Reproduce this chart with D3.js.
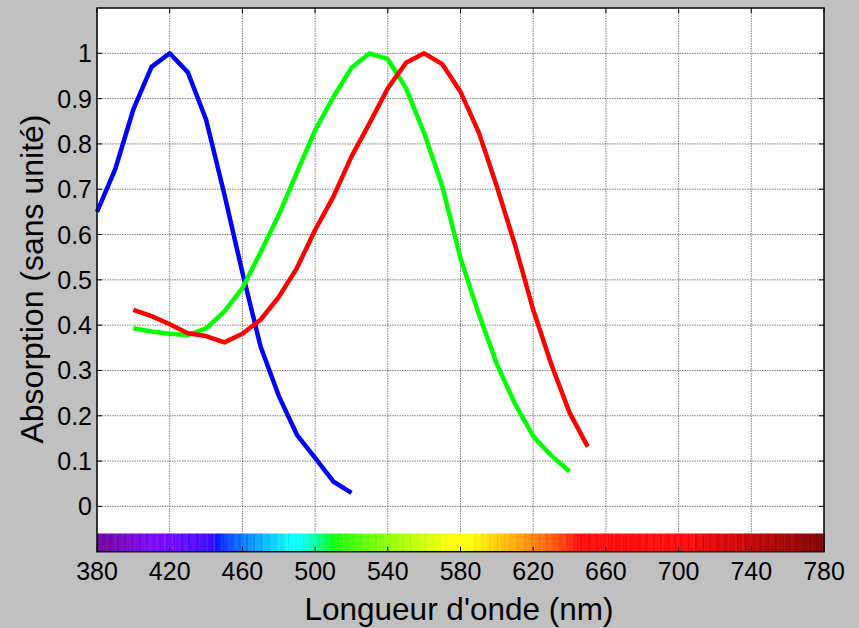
<!DOCTYPE html>
<html>
<head>
<meta charset="utf-8">
<title>Absorption des cônes</title>
<script src="https://d3js.org/d3.v7.min.js"></script>
<style>
  body { margin: 0; background: #c0c0c0; }
  svg { display: block; font-family: "Liberation Sans", Arial, sans-serif; }
  .grid line { stroke: #000; stroke-opacity: 0.5; stroke-dasharray: 1.5,1; }
</style>
</head>
<body>
<svg width="859" height="628"></svg>
<script>
// --- data ---
const blueNm  = [380, 390, 400, 410, 420, 430, 440, 450, 460, 470, 480, 490, 500, 510, 520];
const blueAbs = [0.65, 0.744, 0.876, 0.970, 1.0, 0.958, 0.854, 0.690, 0.516, 0.353, 0.244, 0.158, 0.107, 0.055, 0.030];

const greenNm  = [400, 410, 420, 430, 440, 450, 460, 470, 480, 490, 500, 510, 520, 530, 540, 550, 560, 570, 580, 590, 600, 610, 620, 630, 640];
const greenAbs = [0.393, 0.386, 0.381, 0.378, 0.393, 0.430, 0.482, 0.561, 0.643, 0.737, 0.830, 0.903, 0.968, 1.0, 0.987, 0.923, 0.824, 0.706, 0.548, 0.425, 0.314, 0.226, 0.155, 0.112, 0.077];

const redNm  = [400, 410, 420, 430, 440, 450, 460, 470, 480, 490, 500, 510, 520, 530, 540, 550, 560, 570, 580, 590, 600, 610, 620, 630, 640, 650];
const redAbs = [0.434, 0.420, 0.402, 0.382, 0.376, 0.362, 0.381, 0.412, 0.462, 0.526, 0.610, 0.683, 0.772, 0.846, 0.923, 0.979, 1.0, 0.976, 0.915, 0.826, 0.706, 0.577, 0.434, 0.313, 0.207, 0.132];

const xTicks = [380, 420, 460, 500, 540, 580, 620, 660, 700, 740, 780];
const yTicks = [0, 0.1, 0.2, 0.3, 0.4, 0.5, 0.6, 0.7, 0.8, 0.9, 1];

const series = [
  { nm: blueNm, abs: blueAbs, color: "#0000ff" },
  { nm: greenNm, abs: greenAbs, color: "#00ff00" },
  { nm: redNm, abs: redAbs, color: "#ff0000" }
];

// --- layout ---
const pLeft = 97, pRight = 824, pTop = 8, pBottom = 551.7;

const x = d3.scaleLinear().domain([380, 780]).range([pLeft, pRight]);
const y = d3.scaleLinear().domain([-0.1, 1.1]).range([pBottom, pTop]);

const svg = d3.select("svg");

svg.append("rect")
  .attr("width", 859).attr("height", 628)
  .attr("fill", "#c0c0c0");

svg.append("rect")
  .attr("x", pLeft).attr("y", pTop)
  .attr("width", pRight - pLeft).attr("height", pBottom - pTop)
  .attr("fill", "#fff");

// grid
const grid = svg.append("g").attr("class", "grid");
grid.selectAll(".gx")
  .data(xTicks.slice(1, -1))
  .enter().append("line")
  .attr("x1", d => x(d)).attr("x2", d => x(d))
  .attr("y1", pTop).attr("y2", pBottom);
grid.selectAll(".gy")
  .data(yTicks)
  .enter().append("line")
  .attr("x1", pLeft).attr("x2", pRight)
  .attr("y1", d => y(d)).attr("y2", d => y(d));

// spectrum band along the bottom
function spectrum(w) {
  let r = 0, g = 0, b = 0;
  if (w < 445) { r = 0.55 * (445 - w) / 65 + 0.1; b = 1; }
  else if (w < 490) { g = (w - 445) / 45; b = 1; }
  else if (w < 510) { g = 1; b = (510 - w) / 20; }
  else if (w < 580) { r = (w - 510) / 70; g = 1; }
  else if (w < 645) { r = 1; g = (645 - w) / 65; }
  else { r = 1; }
  let f = 1;
  if (w < 420) f = 0.5 + 0.5 * (w - 380) / 40;
  else if (w > 690) f = 0.4 + 0.6 * (780 - w) / 90;
  // light streaks
  const s = 0.12 * (0.5 + 0.5 * Math.sin(w * 2.3) * Math.cos(w * 0.7));
  const c = v => Math.round(255 * Math.min(1, Math.pow(v * f, 0.8) + s * f));
  return d3.rgb(c(r), c(g), c(b));
}
const bandNm = d3.range(380, 780, 1);
svg.append("g")
  .selectAll("rect")
  .data(bandNm)
  .enter().append("rect")
  .attr("x", d => x(d))
  .attr("width", x(381) - x(380) + 0.6)
  .attr("y", y(-0.06))
  .attr("height", y(-0.1) - y(-0.06))
  .attr("fill", d => spectrum(d + 0.5));

// curves
const line = d3.line().x(d => x(d[0])).y(d => y(d[1]));
svg.append("g")
  .selectAll("path")
  .data(series)
  .enter().append("path")
  .attr("d", s => line(s.nm.map((n, i) => [n, s.abs[i]])))
  .attr("fill", "none")
  .attr("stroke", s => s.color)
  .attr("stroke-width", 4.5)
  .attr("stroke-linejoin", "round");

// axes box + inward ticks
const frame = svg.append("g").attr("stroke", "#000");
frame.append("rect")
  .attr("x", pLeft).attr("y", pTop)
  .attr("width", pRight - pLeft).attr("height", pBottom - pTop)
  .attr("fill", "none").attr("stroke-width", 1.5);

const tk = 5;
xTicks.forEach(t => {
  frame.append("line").attr("x1", x(t)).attr("x2", x(t)).attr("y1", pBottom).attr("y2", pBottom - tk);
  frame.append("line").attr("x1", x(t)).attr("x2", x(t)).attr("y1", pTop).attr("y2", pTop + tk);
});
yTicks.forEach(t => {
  frame.append("line").attr("x1", pLeft).attr("x2", pLeft + tk).attr("y1", y(t)).attr("y2", y(t));
  frame.append("line").attr("x1", pRight).attr("x2", pRight - tk).attr("y1", y(t)).attr("y2", y(t));
});

// tick labels
svg.append("g")
  .selectAll("text")
  .data(xTicks)
  .enter().append("text")
  .attr("x", d => x(d))
  .attr("y", 580)
  .attr("text-anchor", "middle")
  .attr("font-size", 25)
  .text(d => d);

svg.append("g")
  .selectAll("text")
  .data(yTicks)
  .enter().append("text")
  .attr("x", 92)
  .attr("y", d => y(d))
  .attr("dy", "0.36em")
  .attr("text-anchor", "end")
  .attr("font-size", 25)
  .text(d => d3.format("~g")(d));

// axis titles
svg.append("text")
  .attr("x", 459)
  .attr("y", 620)
  .attr("text-anchor", "middle")
  .attr("font-size", 31.5)
  .text("Longueur d'onde (nm)");

svg.append("text")
  .attr("transform", "translate(43,279) rotate(-90)")
  .attr("text-anchor", "middle")
  .attr("font-size", 32)
  .text("Absorption (sans unité)");
</script>
</body>
</html>
